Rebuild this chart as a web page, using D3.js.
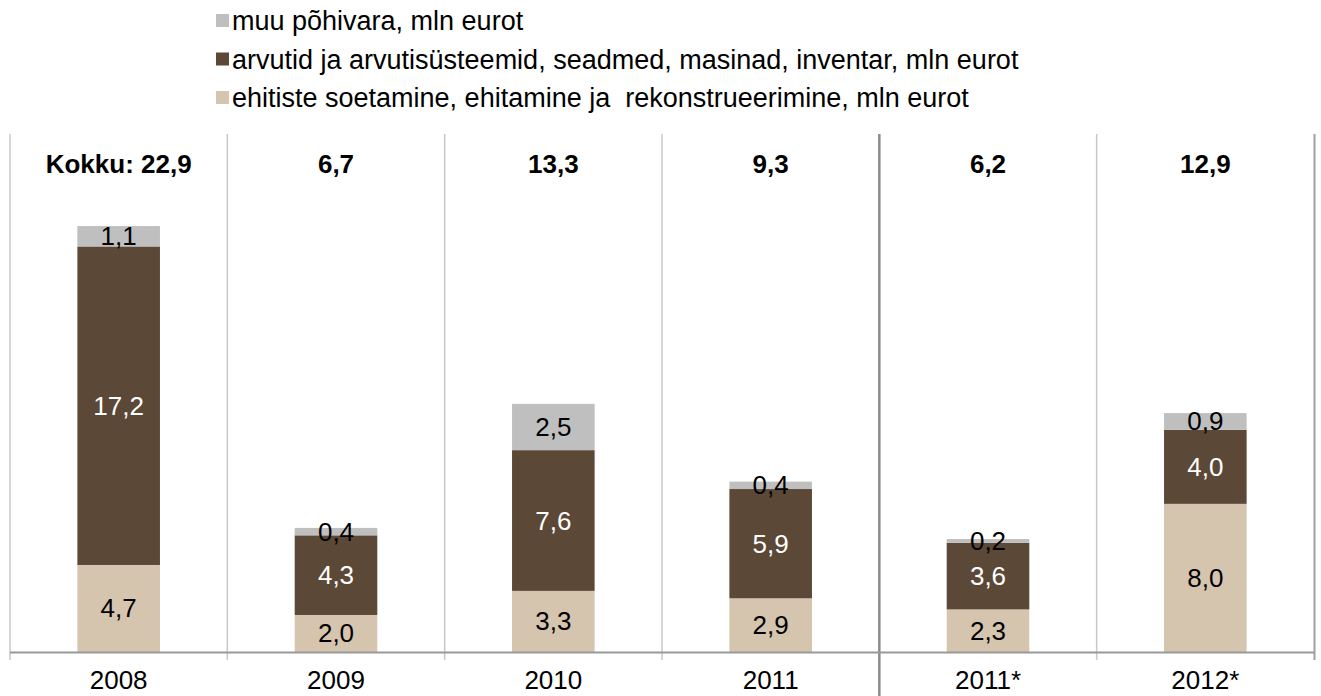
<!DOCTYPE html>
<html>
<head>
<meta charset="utf-8">
<script src="https://cdn.jsdelivr.net/npm/d3@7"></script>
<style>
  body { margin: 0; background: #fff; }
  svg { font-family: Arial, "Liberation Sans", sans-serif; }
</style>
</head>
<body>
<svg id="chart" width="1321" height="696"></svg>
<script>
// --- Données
const years = ["2008", "2009", "2010", "2011", "2011*", "2012*"];
const ehitised = [4.7, 2.0, 3.3, 2.9, 2.3, 8.0];
const arvutid = [17.2, 4.3, 7.6, 5.9, 3.6, 4.0];
const muu = [1.1, 0.4, 2.5, 0.4, 0.2, 0.9];
const totals = ["Kokku: 22,9", "6,7", "13,3", "9,3", "6,2", "12,9"];

const seriesNames = [
  "ehitiste soetamine, ehitamine ja  rekonstrueerimine, mln eurot",
  "arvutid ja arvutisüsteemid, seadmed, masinad, inventar, mln eurot",
  "muu põhivara, mln eurot"
];
const colors = ["#d5c4ae", "#5c4836", "#bfbfbf"];
const labelColors = ["#000", "#fff", "#000"];

const rows = years.map((y, i) => ({ year: y, s0: ehitised[i], s1: arvutid[i], s2: muu[i] }));
const stack = d3.stack().keys(["s0", "s1", "s2"])(rows);

const svg = d3.select("#chart");
const fmt = (v) => v.toFixed(1).replace(".", ",");
const fs = 26;

// --- Échelles
const x = d3.scaleBand().domain(years).range([10, 1314]).paddingInner(0).paddingOuter(0);
const y = d3.scaleLinear().domain([0, 27]).range([652, 152]);
const barW = x.bandwidth() * 0.38;

// --- Lignes verticales
years.forEach((yr, i) => {
  if (i === 0) return;
  const xi = x(yr);
  const sep = i === 4;
  svg.append("line")
    .attr("x1", xi).attr("x2", xi)
    .attr("y1", 134).attr("y2", sep ? 696 : 660)
    .attr("stroke", sep ? "#8c8c8c" : "#c8c8c8")
    .attr("stroke-width", sep ? 2.5 : 1.5);
});
svg.append("line")
  .attr("x1", 10).attr("x2", 10).attr("y1", 134).attr("y2", 660)
  .attr("stroke", "#c8c8c8").attr("stroke-width", 1.5);
svg.append("line")
  .attr("x1", 1314.5).attr("x2", 1314.5).attr("y1", 134).attr("y2", 660)
  .attr("stroke", "#a0a0a0").attr("stroke-width", 2);

// --- Barres
stack.forEach((layer, k) => {
  const g = svg.append("g");
  g.selectAll("rect").data(layer).join("rect")
    .attr("x", (d) => x(d.data.year) + x.bandwidth() / 2 - barW / 2)
    .attr("width", barW)
    .attr("y", (d) => y(d[1]))
    .attr("height", (d) => y(d[0]) - y(d[1]))
    .attr("fill", colors[k]);
  g.selectAll("text").data(layer).join("text")
    .attr("x", (d) => x(d.data.year) + x.bandwidth() / 2)
    .attr("y", (d) => (y(d[0]) + y(d[1])) / 2 + 9)
    .attr("text-anchor", "middle")
    .attr("font-size", fs)
    .attr("fill", labelColors[k])
    .text((d) => fmt(d[1] - d[0]));
});

// --- Axe X
svg.append("line")
  .attr("x1", 10).attr("x2", 1314).attr("y1", 652.5).attr("y2", 652.5)
  .attr("stroke", "#999").attr("stroke-width", 2);
svg.append("g").selectAll("text").data(years).join("text")
  .attr("x", (d) => x(d) + x.bandwidth() / 2)
  .attr("y", 689)
  .attr("text-anchor", "middle")
  .attr("font-size", fs)
  .attr("fill", "#000")
  .text((d) => d);

// --- Totaux
svg.append("g").selectAll("text").data(totals).join("text")
  .attr("x", (d, i) => x(years[i]) + x.bandwidth() / 2)
  .attr("y", 173)
  .attr("text-anchor", "middle")
  .attr("font-size", fs)
  .attr("font-weight", "bold")
  .attr("fill", "#000")
  .text((d) => d);

// --- Légende
const legendOrder = [2, 1, 0];
legendOrder.forEach((k, j) => {
  const ly = 21 + j * 38.5;
  svg.append("rect")
    .attr("x", 216).attr("y", ly - 7).attr("width", 13).attr("height", 13)
    .attr("fill", colors[k]);
  svg.append("text")
    .attr("x", 232).attr("y", ly + 9)
    .attr("font-size", 27)
    .attr("fill", "#000")
    .attr("xml:space", "preserve")
    .style("white-space", "pre")
    .text(seriesNames[k]);
});
</script>
</body>
</html>
